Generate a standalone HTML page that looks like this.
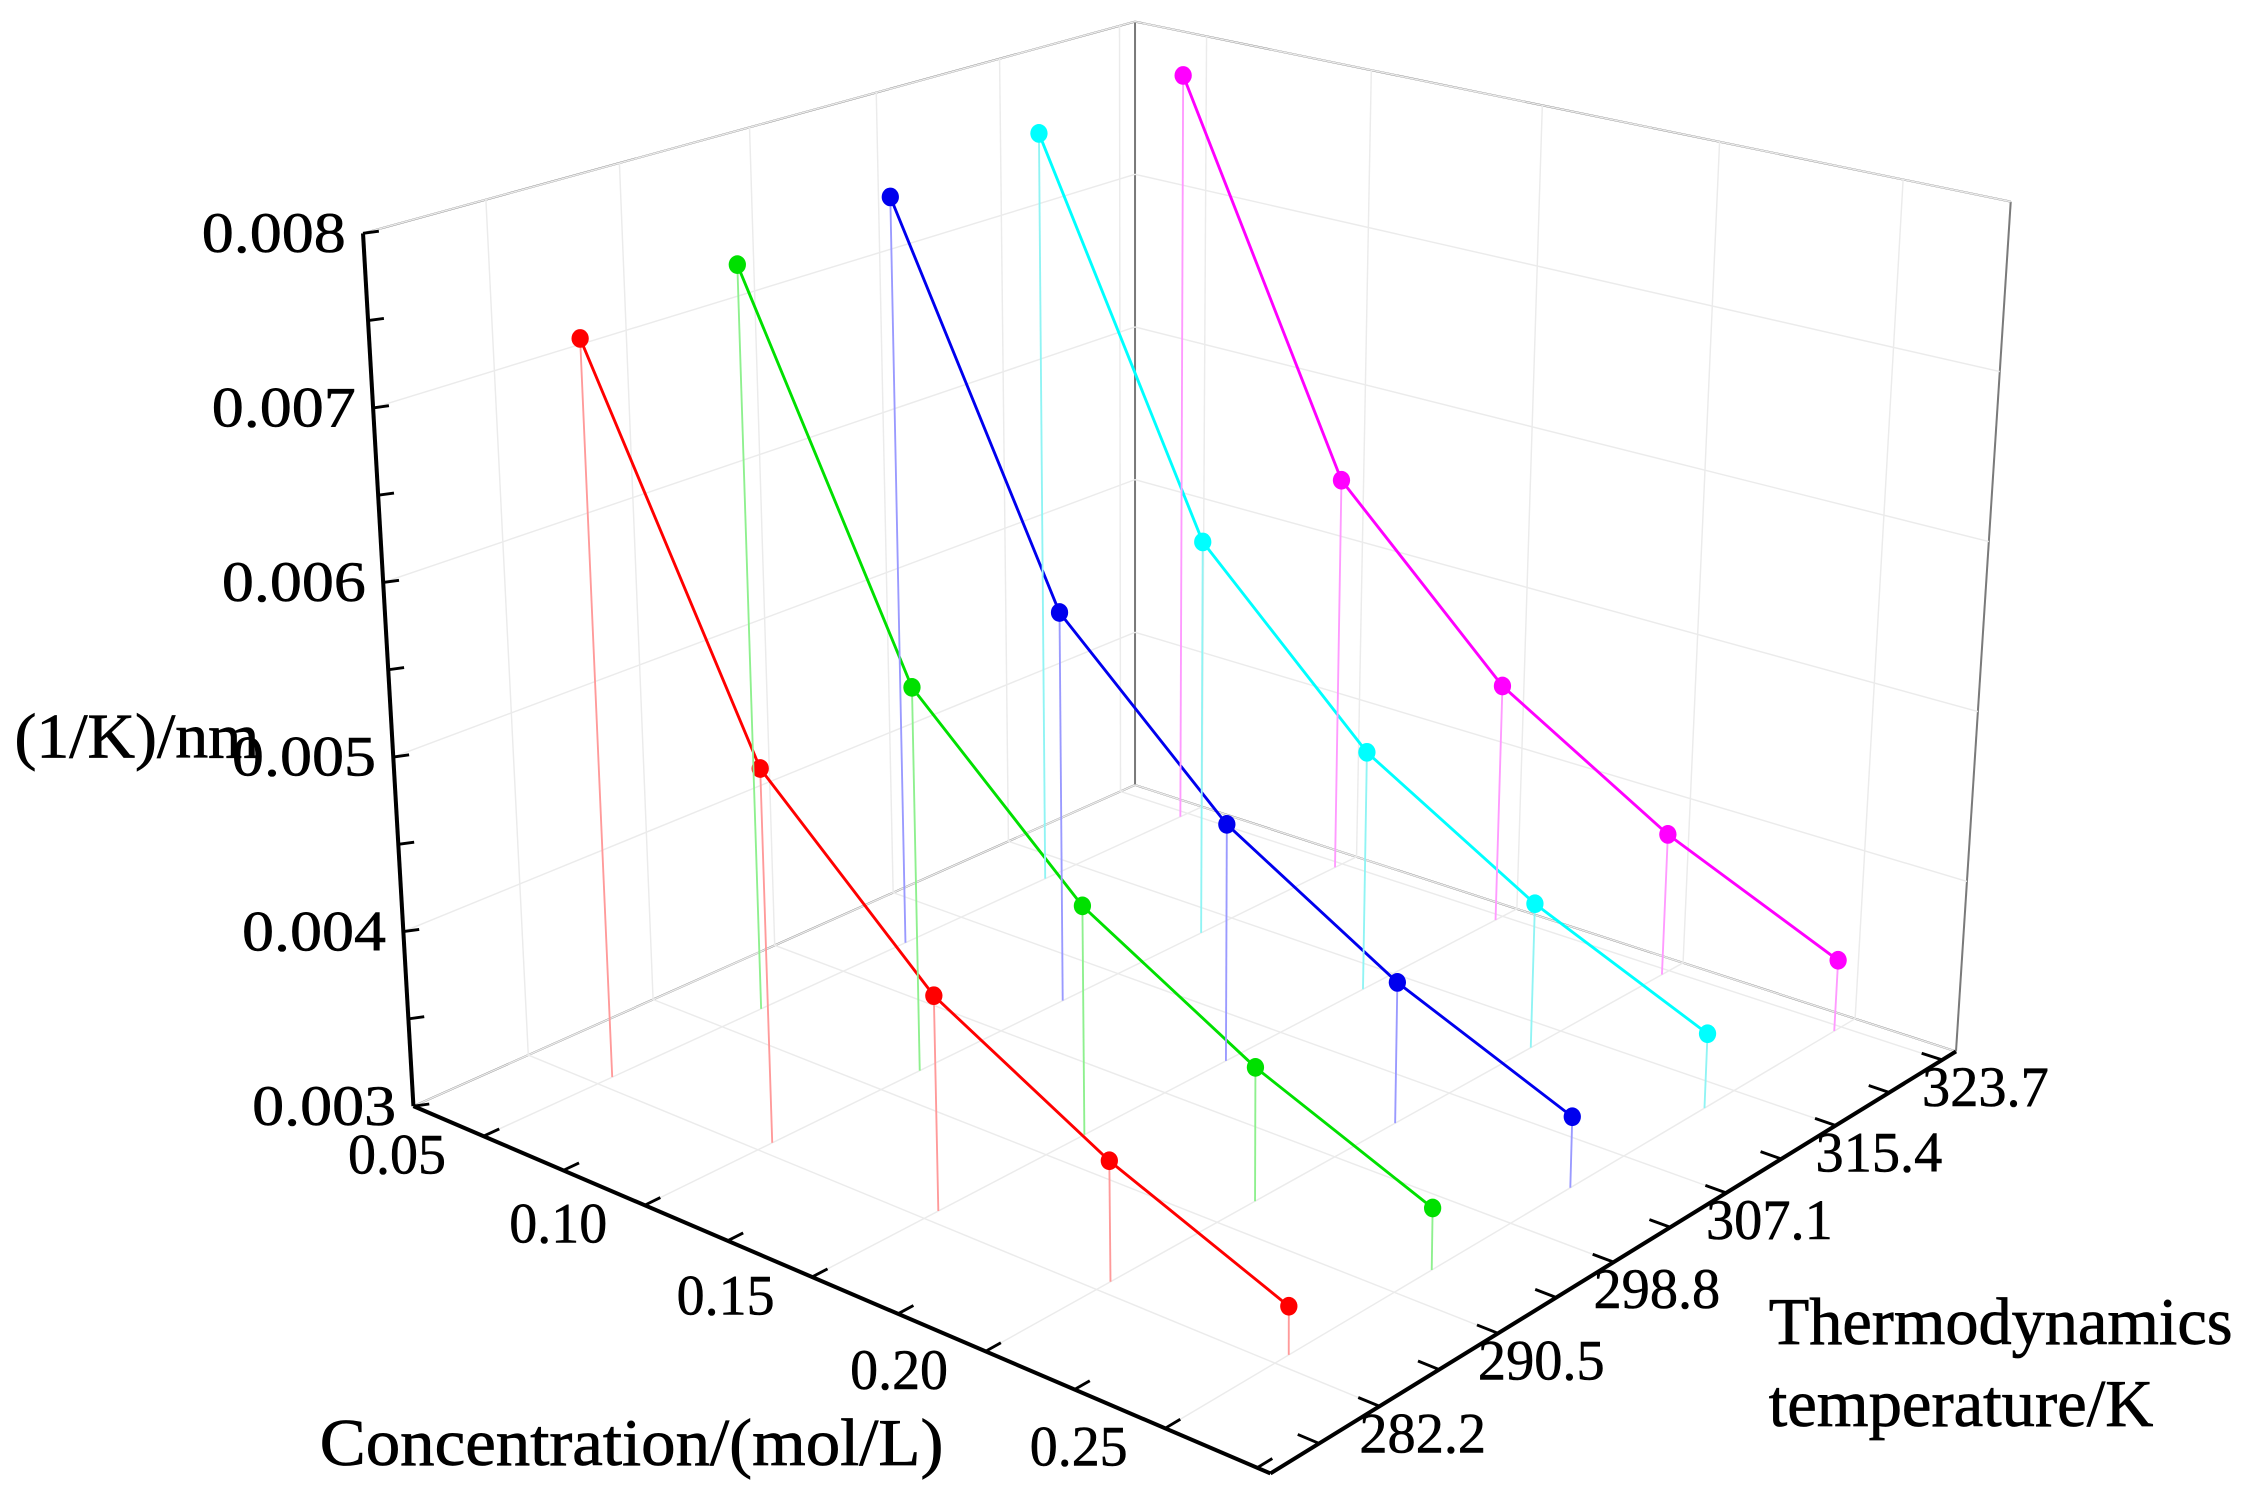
<!DOCTYPE html>
<html><head><meta charset="utf-8"><style>
html,body{margin:0;padding:0;background:#fff;}
svg{display:block;font-family:"Liberation Serif",serif;}
</style></head><body>
<svg id="chart" width="2247" height="1508" viewBox="0 0 1560 1047" xmlns="http://www.w3.org/2000/svg">
<g id="walls"></g>
<g id="grid"></g>
<g id="axes"></g>
<g id="series"></g>
<text x="10" y="526" font-size="44" textLength="170" lengthAdjust="spacingAndGlyphs" stroke="#000" stroke-width="0.5">(1/K)/nm</text>
<text x="222" y="1017" font-size="46" textLength="433" lengthAdjust="spacingAndGlyphs" stroke="#000" stroke-width="0.5">Concentration/(mol/L)</text>
<text x="1228" y="933" font-size="46" textLength="322" lengthAdjust="spacingAndGlyphs" stroke="#000" stroke-width="0.5">Thermodynamics</text>
<text x="1228" y="990" font-size="46" textLength="267" lengthAdjust="spacingAndGlyphs" stroke="#000" stroke-width="0.5">temperature/K</text>
</svg>
<script>
const concentrations = [0.05, 0.10, 0.15, 0.20, 0.25];
const temperatures = [283.15, 293.15, 303.15, 313.15, 323.15];
const seriesRed = [0.00729, 0.00513, 0.00420, 0.00366, 0.00326];
const seriesGreen = [0.00744, 0.00524, 0.00431, 0.00375, 0.00334];
const seriesBlue = [0.00757, 0.00533, 0.00439, 0.00381, 0.00340];
const seriesCyan = [0.00769, 0.00541, 0.00443, 0.00385, 0.00343];
const seriesMagenta = [0.00779, 0.00545, 0.00445, 0.00385, 0.00342];
const zTicks = ["0.003","0.004","0.005","0.006","0.007","0.008"];
const cTicks = ["0.05","0.10","0.15","0.20","0.25"];
const tTicks = ["282.2","290.5","298.8","307.1","315.4","323.7"];

const NS="http://www.w3.org/2000/svg";
const P00=[287,768],P10=[882,1023],P11=[1358,730],P01=[788,545];
const T00=[252,162],T10=[880,350],T11=[1396,140],T01=[788,15];
function aOf(c){const l=0.089+(c-0.05)*3.986;return l-0.09*l*(1-l);}
function bOf(t){const l=0.168+(t-283.15)*0.01998;return l+0.08*l*(1-l);}
function fOf(z){return (z-0.003)/0.005;}
function bil(A,B,C,D,a,b){
  const x0=A[0]+a*(B[0]-A[0]),y0=A[1]+a*(B[1]-A[1]);
  const x1=D[0]+a*(C[0]-D[0]),y1=D[1]+a*(C[1]-D[1]);
  return [x0+b*(x1-x0),y0+b*(y1-y0)];
}
function projAB(a,b,f){
  const F=bil(P00,P10,P11,P01,a,b),T=bil(T00,T10,T11,T01,a,b);
  return [F[0]+f*(T[0]-F[0]),F[1]+f*(T[1]-F[1])];
}
function proj(c,t,z){return projAB(aOf(c),bOf(t),fOf(z));}
function mk(tag,attrs,parent){const e=document.createElementNS(NS,tag);for(const k in attrs)e.setAttribute(k,attrs[k]);parent.appendChild(e);return e;}
function line(p,q,stroke,w,parent){return mk('line',{x1:p[0],y1:p[1],x2:q[0],y2:q[1],stroke:stroke,'stroke-width':w},parent);}

const walls=document.getElementById('walls');
const grid=document.getElementById('grid');
const axes=document.getElementById('axes');
const series=document.getElementById('series');

const gc='#ebebeb';
zTicks.forEach(s=>{const f=fOf(+s);
  const g1=line(projAB(0,0,f),projAB(0,1,f),gc,1,grid);
  
  
  const g2=line(projAB(0,1,f),projAB(1,1,f),gc,1,grid);
  
  
});
cTicks.forEach(s=>{const a=aOf(+s);
  const g1=line(projAB(a,0,0),projAB(a,1,0),gc,1,grid);
  
  
  const g2=line(projAB(a,1,0),projAB(a,1,1),gc,1,grid);
  
  
});
tTicks.forEach(s=>{const b=bOf(+s);
  const g1=line(projAB(0,b,0),projAB(1,b,0),gc,1,grid);
  
  
  const g2=line(projAB(0,b,0),projAB(0,b,1),gc,1,grid);
  
  
});

[[T00,T01],[T01,T11],[T11,P11],[T01,P01],[P00,P01],[P01,P11]].forEach(e=>{
  const l=line(e[0],e[1],'#7a7a7a',1.4,walls);
  
  
});

const za=line(P00,T00,'#000',2.8,axes);


const ca=line(P00,P10,'#000',2.8,axes);


const ta=line(P10,P11,'#000',2.8,axes);



for(let i=0;i<zTicks.length;i++){
  for(let h=0;h<2;h++){
    if(i==zTicks.length-1&&h==1)break;
    const v=+zTicks[i]+h*0.0005;
    const p=projAB(0,0,fOf(v));
    const t=line(p,[p[0]+11,p[1]-1.5],'#000',2,axes);
    
    
  }
  const p=projAB(0,0,fOf(+zTicks[i]));
  const tx=mk('text',{x:p[0]-12,y:p[1]+13,'font-size':40,'text-anchor':'end',textLength:100,lengthAdjust:'spacingAndGlyphs',stroke:'#000','stroke-width':0.4},axes);
  tx.textContent=zTicks[i];
  
  
}
for(let i=0;i<cTicks.length;i++){
  for(let h=0;h<2;h++){
    const v=+cTicks[i]+h*0.025;
    const a=aOf(v); if(a>1)continue;
    const p=projAB(a,0,0),q=projAB(a,0.022,0);
    const t=line(p,q,'#000',2,axes);
    
    
  }
  const p=projAB(aOf(+cTicks[i]),0,0);
  const tx=mk('text',{x:p[0]-60,y:p[1]+26,'font-size':40,'text-anchor':'middle',textLength:68,lengthAdjust:'spacingAndGlyphs',stroke:'#000','stroke-width':0.4},axes);
  tx.textContent=cTicks[i];
  
  
}
for(let i=0;i<tTicks.length;i++){
  for(let h=-1;h<1;h++){
    const v=+tTicks[i]+h*4.15;
    const b=bOf(v); if(b<0||b>1)continue;
    const p=projAB(1,b,0),q=projAB(0.975,b,0);
    const t=line(p,q,'#000',2,axes);
    
    
  }
  const p=projAB(1,bOf(+tTicks[i]),0);
  const tx=mk('text',{x:p[0]-14,y:p[1]+32,'font-size':40,textLength:88,lengthAdjust:'spacingAndGlyphs',stroke:'#000','stroke-width':0.4},axes);
  tx.textContent=tTicks[i];
  
  
}

const allSeries=[
  {name:'red',vals:seriesRed,col:'#ff0000',stem:'#ff9a9a'},
  {name:'green',vals:seriesGreen,col:'#00e000',stem:'#8ef08e'},
  {name:'blue',vals:seriesBlue,col:'#0000ee',stem:'#9a9aff'},
  {name:'cyan',vals:seriesCyan,col:'#00ffff',stem:'#90f4f4'},
  {name:'magenta',vals:seriesMagenta,col:'#ff00ff',stem:'#ff9aff'}
];
allSeries.forEach((s,si)=>{
  const g=mk('g',{},series);
  
  
  const t=temperatures[si];
  const pts=s.vals.map((v,i)=>proj(concentrations[i],t,v));
  s.vals.forEach((v,i)=>{
    const st=line(pts[i],proj(concentrations[i],t,0.003),s.stem,1.3,g);
    
    
  });
  const pl=mk('polyline',{points:pts.map(p=>p.join(',')).join(' '),fill:'none',stroke:s.col,'stroke-width':2},g);
  
  
  pts.forEach(p=>{
    const c=mk('ellipse',{cx:p[0],cy:p[1],rx:6,ry:6.5,fill:s.col},g);
    
    
  });
});
</script>
</body></html>
